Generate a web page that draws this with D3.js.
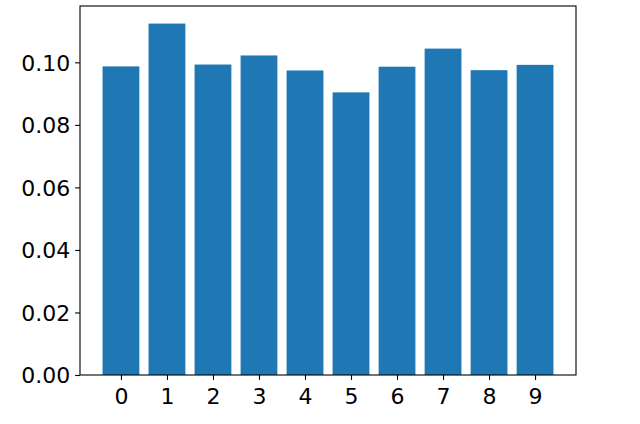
<!DOCTYPE html>
<html><head><meta charset="utf-8">
<script src="https://cdn.jsdelivr.net/npm/d3@7"></script>
<style>html,body{margin:0;padding:0;background:#fff}</style>
</head><body>
<svg id="c" width="640" height="424"></svg>
<script>
const categories = ["0","1","2","3","4","5","6","7","8","9"];
const values = [0.0987, 0.1124, 0.0993, 0.1022, 0.0974, 0.0904, 0.0986, 0.1044, 0.0975, 0.0992];
const yTicks = [0, 0.02, 0.04, 0.06, 0.08, 0.10];

const svg = d3.select("#c");
const L = 80, R = 576, T = 6, B = 375;
const n = categories.length, bw = 0.8;
const x = d3.scaleLinear().domain([-bw/2 - 0.05*(n-1+bw), (n-1)+bw/2 + 0.05*(n-1+bw)]).range([L, R]);
const y = d3.scaleLinear().domain([0, d3.max(values)*1.05]).range([B, T]);

svg.append("g").selectAll("rect").data(values).join("rect")
  .attr("x", (d,i) => x(i - bw/2))
  .attr("width", (d,i) => x(i + bw/2) - x(i - bw/2))
  .attr("y", d => y(d))
  .attr("height", d => y(0) - y(d))
  .attr("fill", "#1f77b4");

const font = "DejaVu Sans";
const fs = 22;
const xa = svg.append("g").attr("transform", `translate(0,${B})`)
  .call(d3.axisBottom(x).tickValues(d3.range(n)).tickFormat(i => categories[i]).tickSizeOuter(0).tickSize(4.9).tickPadding(4.9));
const ya = svg.append("g").attr("transform", `translate(${L},0)`)
  .call(d3.axisLeft(y).tickValues(yTicks).tickFormat(d3.format(".2f")).tickSizeOuter(0).tickSize(4.9).tickPadding(4.9));
[xa, ya].forEach(a => {
  a.attr("font-size", null).attr("font-family", null);
  a.select(".domain").remove();
  a.selectAll("line").attr("stroke", "#000").attr("stroke-width", 1.1);
  a.selectAll("text").style("font-family", font).style("font-size", fs + "px").attr("fill", "#000");
});
xa.selectAll("text").attr("dy", "0.87em");
ya.selectAll("text").attr("dy", "0.36em");

svg.append("rect").attr("x", L).attr("y", T).attr("width", R-L).attr("height", B-T)
  .attr("fill", "none").attr("stroke", "#000").attr("stroke-width", 1.1);
</script>
</body></html>
